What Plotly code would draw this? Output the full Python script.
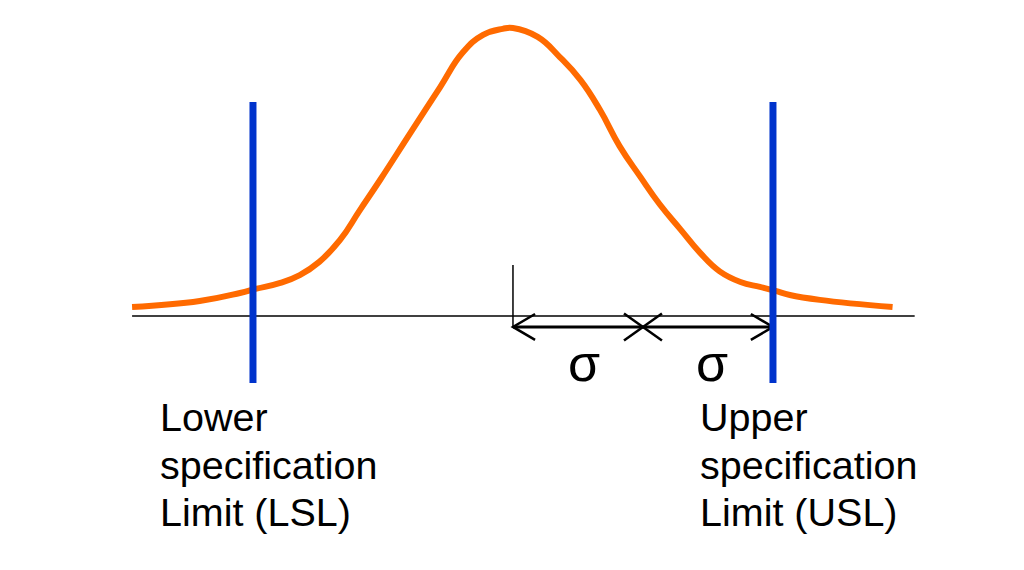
import plotly.graph_objects as go

# ---- data (x in sigma units from the mean, y as fraction of peak height) ----
curve_z = [-2.93, -2.41, -2.10, -1.98, -1.79, -1.64, -1.49, -1.33, -1.18, -1.02,
           -0.79, -0.56, -0.39, -0.23, -0.08, 0.00, 0.19, 0.36, 0.52, 0.67,
           0.82, 0.98, 1.13, 1.29, 1.44, 1.59, 1.75, 1.90, 2.02, 2.13,
           2.36, 2.92]
curve_h = [0.031, 0.052, 0.080, 0.094, 0.115, 0.142, 0.188, 0.264, 0.366, 0.474,
           0.635, 0.795, 0.913, 0.976, 0.997, 1.000, 0.969, 0.899, 0.819, 0.715,
           0.590, 0.483, 0.387, 0.300, 0.219, 0.155, 0.118, 0.101, 0.087, 0.073,
           0.056, 0.031]

MEAN = 0.0
SIGMA = 1.0
LSL = -2.0
USL = 2.0
baseline_span = [-2.93, 3.09]
sigma_labels = ["σ", "σ"]
lsl_label = ["Lower", "specification", "Limit (LSL)"]
usl_label = ["Upper", "specification", "Limit (USL)"]

# ---- styling ----
ORANGE = "#FF6A00"
BLUE = "#0033CC"
FONT = "Liberation Sans, Arial, sans-serif"
ARROW_Y = -0.038
LIMIT_TOP, LIMIT_BOTTOM = 0.743, -0.233
HEAD_DX, HEAD_DY = 0.17, 0.045
CROSS_DX, CROSS_DY = 0.146, 0.047

fig = go.Figure()

# baseline
fig.add_trace(go.Scatter(x=baseline_span, y=[0, 0], mode="lines",
                         line=dict(color="black", width=1.5), hoverinfo="skip"))

# bell curve
fig.add_trace(go.Scatter(x=curve_z, y=curve_h, mode="lines",
                         line=dict(color=ORANGE, width=6, shape="spline", smoothing=1.3),
                         hoverinfo="skip"))

# mean tick
fig.add_trace(go.Scatter(x=[MEAN, MEAN], y=[0.177, ARROW_Y], mode="lines",
                         line=dict(color="black", width=1.5), hoverinfo="skip"))

# arrow shaft
fig.add_trace(go.Scatter(x=[MEAN, MEAN + 2 * SIGMA], y=[ARROW_Y, ARROW_Y], mode="lines",
                         line=dict(color="black", width=3), hoverinfo="skip"))

# arrow heads and cross
hx, hy = [], []
L = MEAN
R = MEAN + 2 * SIGMA
C = MEAN + SIGMA
hx += [L + HEAD_DX, L, L + HEAD_DX, None]
hy += [ARROW_Y + HEAD_DY, ARROW_Y, ARROW_Y - HEAD_DY, None]
hx += [R - HEAD_DX, R, R - HEAD_DX, None]
hy += [ARROW_Y + HEAD_DY, ARROW_Y, ARROW_Y - HEAD_DY, None]
hx += [C - CROSS_DX, C + CROSS_DX, None, C - CROSS_DX, C + CROSS_DX]
hy += [ARROW_Y + CROSS_DY, ARROW_Y - CROSS_DY, None, ARROW_Y - CROSS_DY, ARROW_Y + CROSS_DY]
fig.add_trace(go.Scatter(x=hx, y=hy, mode="lines",
                         line=dict(color="black", width=2.5), hoverinfo="skip"))

# spec limits
for lim in (LSL, USL):
    fig.add_trace(go.Scatter(x=[lim, lim], y=[LIMIT_TOP, LIMIT_BOTTOM], mode="lines",
                             line=dict(color=BLUE, width=7), hoverinfo="skip"))

annotations = []
for i, s in enumerate(sigma_labels):
    xpos = [MEAN + 0.55 * SIGMA, MEAN + 1.53 * SIGMA][i]
    annotations.append(dict(x=xpos, y=-0.163, text=s, showarrow=False,
                            xanchor="center", yanchor="middle",
                            font=dict(family=FONT, size=52, color="black")))

line_y = [-0.349, -0.516, -0.682]
for lines, x0 in ((lsl_label, -2.73), (usl_label, 1.424)):
    for t, yy in zip(lines, line_y):
        annotations.append(dict(x=x0, y=yy, text=t, showarrow=False,
                                xanchor="left", yanchor="middle",
                                font=dict(family=FONT, size=39.5, color="black")))

fig.update_layout(
    width=1024, height=570,
    margin=dict(l=0, r=0, t=0, b=0),
    paper_bgcolor="white", plot_bgcolor="white",
    showlegend=False,
    xaxis=dict(range=[-3.946, 3.931], visible=False, fixedrange=True),
    yaxis=dict(range=[-0.8819, 1.0972], visible=False, fixedrange=True),
    annotations=annotations,
)

fig.write_html("out.html", config={"displayModeBar": False},
               post_script="document.body.style.margin='0';document.body.style.overflow='hidden';")
